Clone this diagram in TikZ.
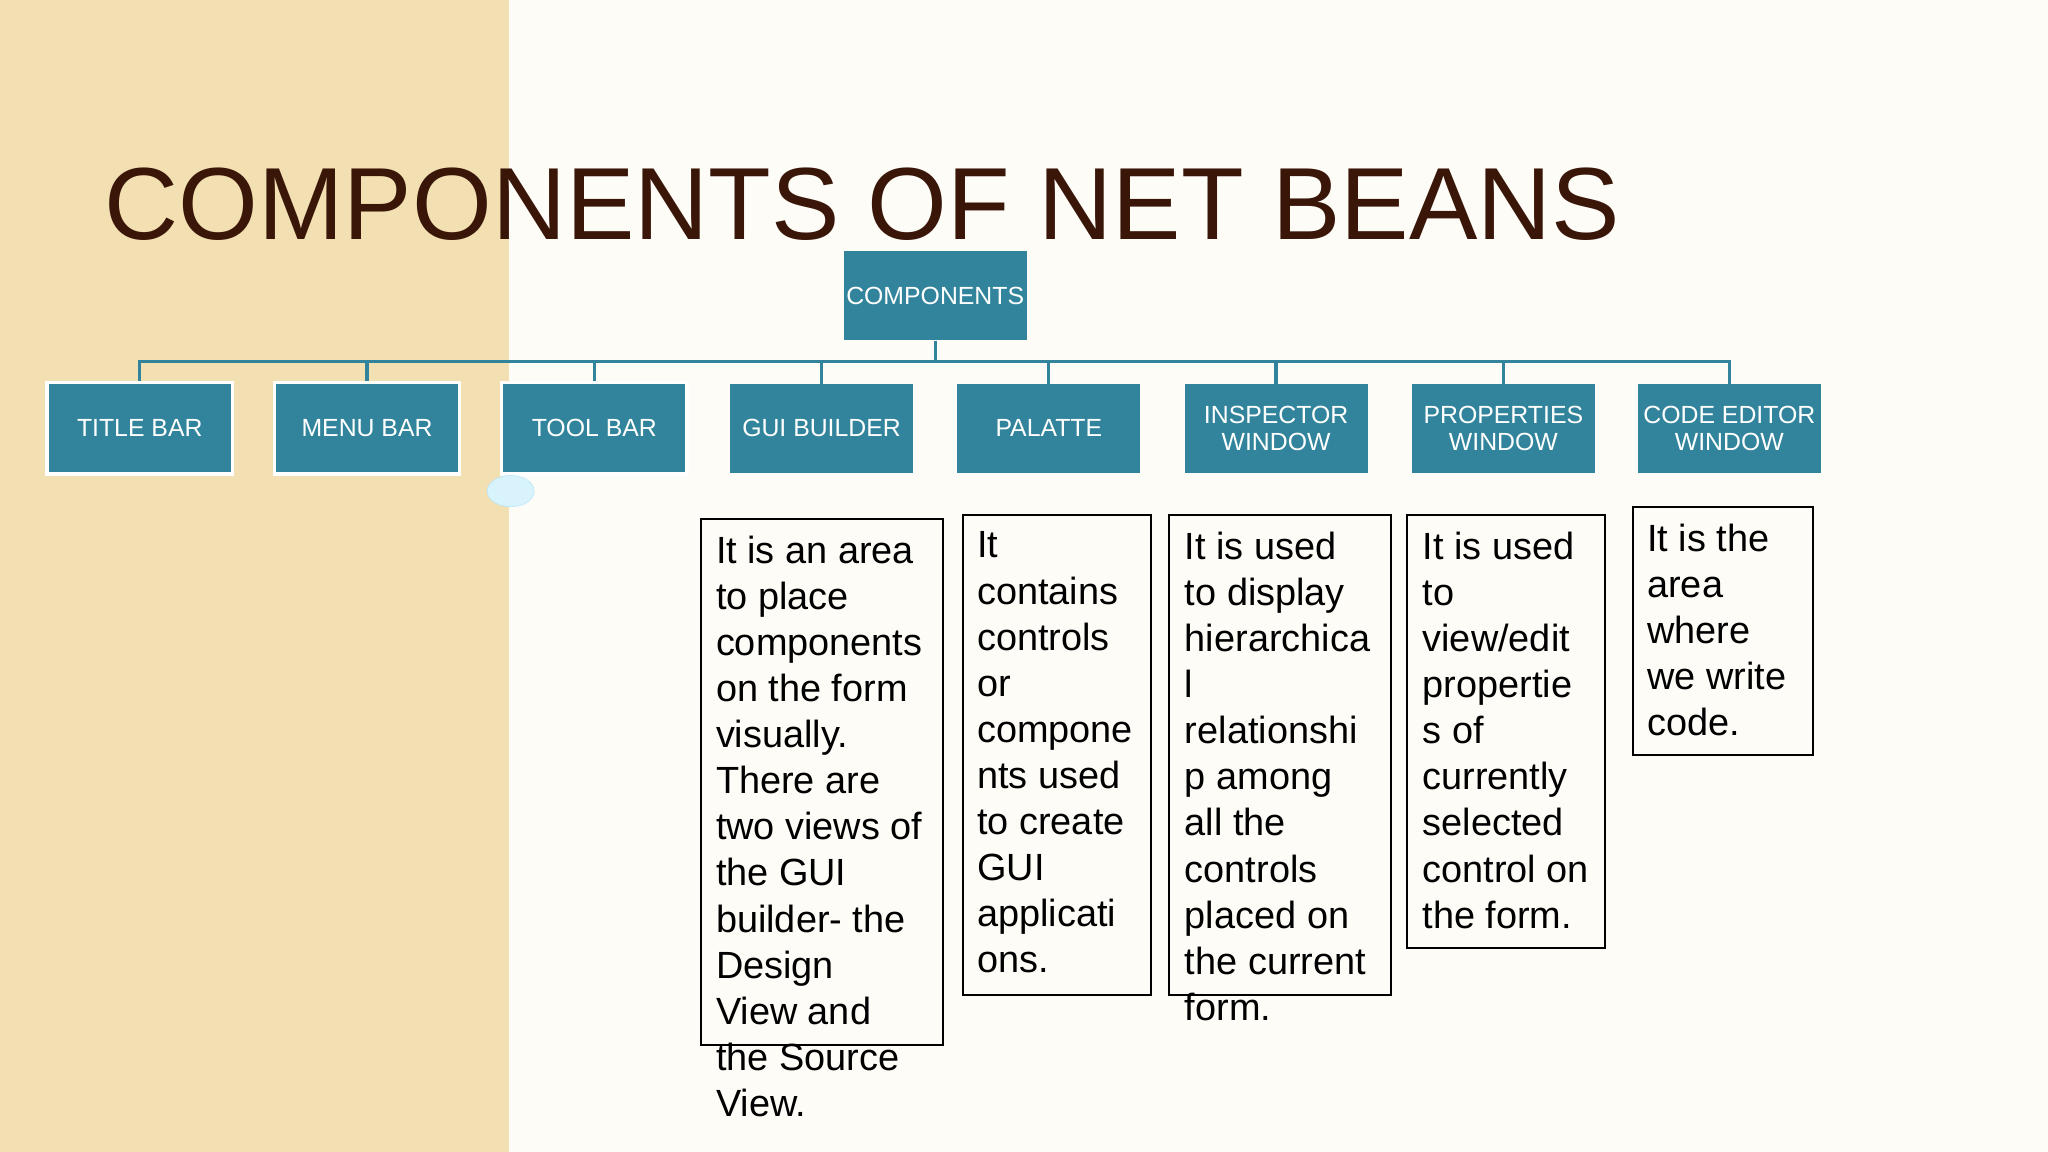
\documentclass[tikz,border=0pt]{standalone}
\usepackage{fontspec}
\setmainfont{Liberation Sans}
\definecolor{teal1}{HTML}{31849B}
\definecolor{beige}{HTML}{F2DFB2}
\definecolor{paper}{HTML}{FDFCF7}
\definecolor{titlec}{HTML}{3A1609}
\begin{document}
\begin{tikzpicture}[x=1pt,y=-1pt,
  hdr/.style={draw=white,line width=2.5pt,fill=teal1,text=white,minimum width=142pt,minimum height=70pt,align=center,font=\fontsize{19}{20}\selectfont,inner sep=0pt},
  hdrb/.style={fill=teal1,text=white,minimum width=140pt,minimum height=68pt,align=center,font=\fontsize{19}{20}\selectfont,inner sep=0pt},
  desc/.style={draw=black,line width=1.5pt},
  dtext/.style={anchor=north west,align=left,inner sep=0pt,font=\fontsize{29}{35.3}\selectfont},
  link/.style={draw=teal1,line width=2.5pt}]
\useasboundingbox (0,0) rectangle (1568,882);
\fill[paper] (0,0) rectangle (1568,882);
\fill[beige] (0,0) rectangle (390,882);
\node[anchor=base west,inner sep=0pt,text=titlec,font=\fontsize{78.5}{80}\selectfont] (title) at (80,183) {COMPONENTS OF NET BEANS};
\node[hdrb] (c) at (716,226.5) {COMPONENTS};
\node[hdr] (t1) at (107,328) {TITLE BAR};
\node[hdr] (t2) at (281,328) {MENU BAR};
\node[hdr] (t3) at (455,328) {TOOL BAR};
\node[hdrb] (t4) at (629,328) {GUI BUILDER};
\node[hdrb] (t5) at (803,328) {PALATTE};
\node[hdrb] (t6) at (977,328) {INSPECTOR\\WINDOW};
\node[hdrb] (t7) at (1151,328) {PROPERTIES\\WINDOW};
\node[hdrb] (t8) at (1324,328) {CODE EDITOR\\WINDOW};
\coordinate (j) at (716,277);
\draw[link] (c.south) -- (j);
\draw[link] (t1.north) |- (t8.north |- j) -- (t8.north);
\foreach \n in {t2,t3,t4,t5,t6,t7} \draw[link] (\n.north |- j) -- (\n.north);
\fill[cyan!15,draw=cyan!30] (391,376) ellipse (18pt and 12pt);
\draw[desc] (537,397) rectangle (722,800);
\draw[desc] (737,394) rectangle (881,762);
\draw[desc] (895,394) rectangle (1065,762);
\draw[desc] (1077,394) rectangle (1229,726);
\draw[desc] (1250,388) rectangle (1388,578);
\node[dtext] (d4) at (548,410) {It is an area\\to place\\components\\on the form\\visually.\\There are\\two views of\\the GUI\\builder- the\\Design\\View and\\the Source\\View.};
\node[dtext] (d5) at (748,407) {It\\contains\\controls\\or\\compone\\nts used\\to create\\GUI\\applicati\\ons.};
\node[dtext] (d6) at (907,407) {It is used\\to display\\hierarchica\\l\\relationshi\\p among\\all the\\controls\\placed on\\the current\\form.};
\node[dtext] (d7) at (1089,407) {It is used\\to\\view/edit\\propertie\\s of\\currently\\selected\\control on\\the form.};
\node[dtext] (d8) at (1261,401) {It is the\\area\\where\\we write\\code.};
\end{tikzpicture}
\end{document}
